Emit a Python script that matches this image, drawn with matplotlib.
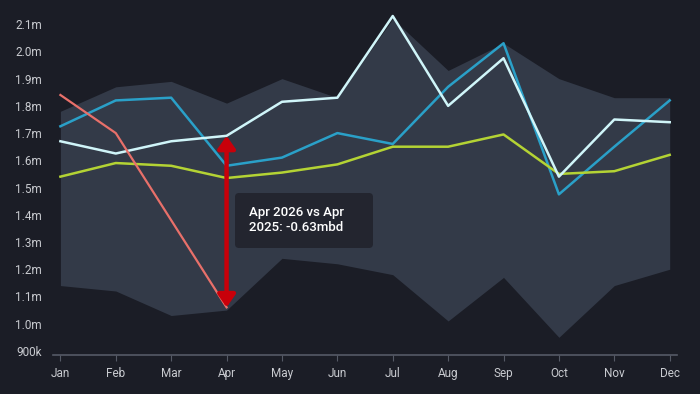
import matplotlib.pyplot as plt
from matplotlib.patches import FancyBboxPatch, FancyArrowPatch

months = ['Jan', 'Feb', 'Mar', 'Apr', 'May', 'Jun', 'Jul', 'Aug', 'Sep', 'Oct', 'Nov', 'Dec']

# values in million barrels per day
band_high = [1.78, 1.87, 1.89, 1.81, 1.90, 1.83, 2.12, 1.93, 2.03, 1.90, 1.83, 1.83]
band_low = [1.14, 1.12, 1.03, 1.05, 1.24, 1.22, 1.18, 1.01, 1.17, 0.95, 1.14, 1.20]
teal = [1.725, 1.82, 1.83, 1.58, 1.61, 1.70, 1.66, 1.87, 2.03, 1.475, 1.65, 1.82]
white = [1.67, 1.625, 1.67, 1.69, 1.815, 1.83, 2.13, 1.80, 1.975, 1.54, 1.75, 1.74]
green = [1.54, 1.59, 1.58, 1.535, 1.555, 1.585, 1.65, 1.65, 1.695, 1.55, 1.56, 1.62]
red = [1.84, 1.70, 1.38, 1.06]

yticks = [0.9, 1.0, 1.1, 1.2, 1.3, 1.4, 1.5, 1.6, 1.7, 1.8, 1.9, 2.0, 2.1]
ylabels = ['900k'] + ['%.1fm' % v for v in yticks[1:]]

arrow_from = 1.06
arrow_to = 1.69
note = 'Apr 2026 vs Apr\n2025: -0.63mbd'

bg = '#1b1d26'
plt.rcParams['font.family'] = ['Roboto', 'DejaVu Sans']

fig = plt.figure(figsize=(7, 3.94), dpi=100, facecolor=bg)
ax = fig.add_axes([0.076, 0.099, 0.891, 0.888], facecolor=bg)

x = list(range(len(months)))
ax.fill_between(x, band_low, band_high, color='#333a48', lw=0, zorder=1)
ax.plot(x, teal, color='#2aa0c8', lw=1.8, zorder=3)
ax.plot(x, green, color='#b4d334', lw=1.8, zorder=3)
ax.plot(x, white, color='#d0f5f9', lw=1.8, zorder=4)
ax.plot(x[:len(red)], red, color='#e8706a', lw=1.6, zorder=4)

arr = FancyArrowPatch((3, arrow_from), (3, arrow_to), arrowstyle='<|-|>,head_length=5,head_width=3.5',
                      color='#c8000a', lw=3.2, shrinkA=0, shrinkB=0, zorder=6, mutation_scale=1.5)
ax.add_patch(arr)

box = FancyBboxPatch((235, 394 - 248), 138, 55, boxstyle='round,pad=0,rounding_size=4',
                     transform=None, facecolor='#23252f', edgecolor='none', zorder=7)
fig.patches.append(box)
fig.text(249 / 700, 1 - 220 / 394, note, color='white', fontsize=9.5, fontweight='medium',
         va='center', ha='left', linespacing=1.25, zorder=8)

ax.set_xlim(-0.13, 11.13)
ax.set_ylim(0.885, 2.17)
ax.set_xticks(x)
ax.set_xticklabels(months)
ax.set_yticks(yticks)
ax.set_yticklabels(ylabels)
ax.tick_params(axis='y', length=0, pad=8, labelsize=8.5, labelcolor='#c9cbd0')
ax.tick_params(axis='x', length=4, color='#555a66', pad=5, labelsize=8.5, labelcolor='#c9cbd0')
for s in ['top', 'right', 'left']:
    ax.spines[s].set_visible(False)
ax.spines['bottom'].set_color('#555a66')
ax.spines['bottom'].set_linewidth(1.2)

fig.savefig('out.png', dpi=100, facecolor=bg)
